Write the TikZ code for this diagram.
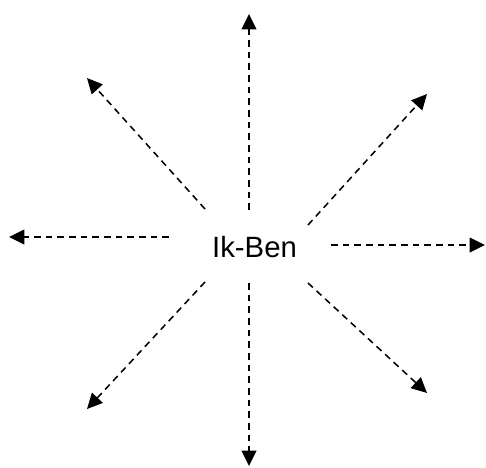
\documentclass[tikz,border=0pt]{standalone}
\usepackage{fontspec}
\setmainfont{Liberation Sans}
\usetikzlibrary{arrows.meta}

\tikzset{pijl/.style={-{Triangle[length=11.5pt,width=11pt]}, line width=1.15pt, dash pattern=on 5pt off 3.75pt}}

\begin{document}
\begin{tikzpicture}[x=0.75pt,y=-0.75pt]
    \useasboundingbox (0,0) rectangle (486,468);
    \node (ikben) at (254.5,247.5) {\fontsize{22}{26}\selectfont Ik-Ben};
    % begin- en eindpunten van de pijlen
    \coordinate (sboven) at (249,210);   \coordinate (eboven) at (249,14);
    \coordinate (sonder) at (249,283);   \coordinate (eonder) at (249,466);
    \coordinate (slinks) at (169,237);   \coordinate (elinks) at (9,237);
    \coordinate (srechts) at (331,245);  \coordinate (erechts) at (485,245);
    \coordinate (slb) at (205,209);      \coordinate (elb) at (87,78);
    \coordinate (srb) at (308,225);      \coordinate (erb) at (427,94);
    \coordinate (slo) at (205,282);      \coordinate (elo) at (87,409);
    \coordinate (sro) at (308,283);      \coordinate (ero) at (427,393);
    \draw[pijl] (sboven) -- (eboven);
    \draw[pijl] (sonder) -- (eonder);
    \draw[pijl] (slinks) -- (elinks);
    \draw[pijl] (srechts) -- (erechts);
    \draw[pijl] (slb) -- (elb);
    \draw[pijl] (srb) -- (erb);
    \draw[pijl] (slo) -- (elo);
    \draw[pijl] (sro) -- (ero);
  \end{tikzpicture}
\end{document}
